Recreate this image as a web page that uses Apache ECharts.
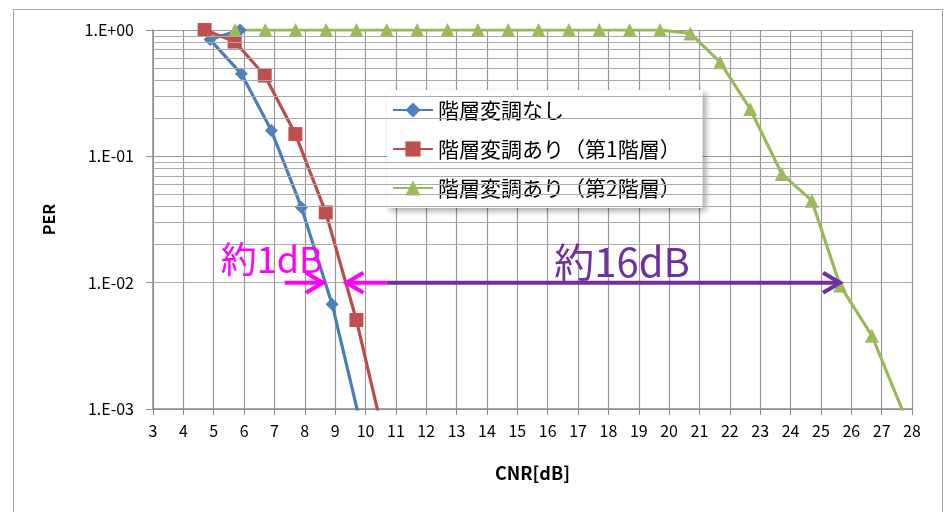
<!DOCTYPE html>
<html>
<head>
<meta charset="utf-8">
<script src="https://cdn.jsdelivr.net/npm/echarts@6/dist/echarts.min.js"></script>
<style>
  html, body { margin: 0; padding: 0; background: #fff; }
  #chart { width: 949px; height: 512px; }
</style>
</head>
<body>
<div id="chart"></div>
<script>
// PER vs CNR for hierarchical modulation
const seriesNames = ['階層変調なし', '階層変調あり（第1階層）', '階層変調あり（第2階層）'];

const cnrNone = [5.87, 4.88, 5.91, 6.90, 7.89, 8.90, 9.90];
const perNone = [1.0, 0.84, 0.45, 0.16, 0.0394, 0.00675, 0.00066];

const cnrLayer1 = [4.70, 5.69, 6.68, 7.69, 8.69, 9.70, 10.70];
const perLayer1 = [1.0, 0.81, 0.436, 0.15, 0.036, 0.00506, 0.00048];

const cnrLayer2 = [5.7, 6.7, 7.7, 8.7, 9.7, 10.7, 11.7, 12.7, 13.7, 14.7, 15.7, 16.7, 17.7, 18.7, 19.7,
                   20.7, 21.68, 22.67, 23.71, 24.7, 25.63, 26.68, 27.7];
const perLayer2 = [1, 1, 1, 1, 1, 1, 1, 1, 1, 1, 1, 1, 1, 1, 1,
                   0.94, 0.556, 0.237, 0.0726, 0.0446, 0.0095, 0.0038, 0.00096];

// y axis decades and their labels
const yTicks = [0.001, 0.01, 0.1, 1];
const yTickLabels = ['1.E-03', '1.E-02', '1.E-01', '1.E+00'];
// in-decade minor grid multipliers
const minorSteps = [2, 3, 4, 5, 6, 7, 8, 9];

// gap annotations (data coordinates)
const gapTexts = ['約1dB', '約16dB'];
const gapTextPos = [[6.91, 0.0153], [18.45, 0.0145]];
const gapArrows = [
  { from: [7.34, 0.01], to: [8.60, 0.01], color: '#ff00ff' },
  { from: [10.69, 0.01], to: [25.63, 0.01], color: '#7030a0' },
  { from: [10.69, 0.01], to: [9.37, 0.01], color: '#ff00ff' }
];

const zip = (xs, ys) => xs.map((x, i) => [x, ys[i]]);

const minorLines = [];
yTicks.slice(0, 3).forEach(d => minorSteps.forEach(m => minorLines.push({ yAxis: d * m })));

const FONT = '"Noto Sans CJK JP", "Noto Sans", sans-serif';
const chart = echarts.init(document.getElementById('chart'), null, { renderer: 'canvas' });

chart.setOption({
  animation: false,
  backgroundColor: '#fff',
  textStyle: { fontFamily: FONT },
  grid: { left: 153, right: 37, top: 30, bottom: 103 },
  legend: {
    data: seriesNames,
    orient: 'vertical',
    left: 387,
    top: 90,
    itemWidth: 40,
    itemHeight: 19,
    itemGap: 15,
    padding: [8, 22, 8, 5],
    backgroundColor: '#fff',
    shadowColor: 'rgba(0,0,0,0.35)',
    shadowBlur: 6,
    shadowOffsetX: 3,
    shadowOffsetY: 3,
    textStyle: { fontSize: 21, color: '#000', fontFamily: FONT, lineHeight: 24 }
  },
  xAxis: {
    type: 'value',
    min: 3, max: 28, interval: 1,
    name: 'CNR[dB]',
    nameLocation: 'middle',
    nameGap: 55,
    nameTextStyle: { fontSize: 18, fontWeight: 'bold', color: '#000', fontFamily: FONT },
    axisLine: { lineStyle: { color: '#8c8c8c', width: 1.5 } },
    axisTick: { show: true, length: 6, lineStyle: { color: '#8c8c8c' } },
    axisLabel: { fontSize: 16, color: '#000', margin: 14 },
    splitLine: { show: true, lineStyle: { color: '#999', width: 1.2 } }
  },
  yAxis: {
    type: 'log',
    logBase: 10,
    min: 0.001, max: 1,
    interval: 1,
    name: 'PER',
    nameLocation: 'middle',
    nameGap: 96,
    nameTextStyle: { fontSize: 16, fontWeight: 'bold', color: '#000', fontFamily: FONT },
    axisLine: { show: true, lineStyle: { color: '#8c8c8c', width: 1.5 } },
    axisTick: { show: true, length: 7, lineStyle: { color: '#8c8c8c' } },
    axisLabel: {
      fontSize: 16, color: '#000', margin: 19,
      formatter: v => {
        let best = 0;
        yTicks.forEach((t, i) => { if (Math.abs(Math.log10(t) - Math.log10(v)) < Math.abs(Math.log10(yTicks[best]) - Math.log10(v))) best = i; });
        return yTickLabels[best];
      }
    },
    splitLine: { show: true, lineStyle: { color: '#999', width: 1.2 } }
  },
  series: [
    {
      name: 'minor-grid',
      type: 'line',
      data: [],
      z: 1,
      silent: true,
      markLine: {
        silent: true,
        symbol: 'none',
        label: { show: false },
        lineStyle: { color: '#aaa', width: 1.2, type: 'solid' },
        emphasis: { disabled: true },
        data: minorLines
      }
    },
    {
      name: seriesNames[0],
      type: 'line',
      data: zip(cnrNone, perNone),
      symbol: 'diamond',
      symbolSize: 13,
      lineStyle: { color: '#4a7ebb', width: 3.2 },
      itemStyle: { color: '#4f81bd' },
      z: 3
    },
    {
      name: seriesNames[1],
      type: 'line',
      data: zip(cnrLayer1, perLayer1),
      symbol: 'rect',
      symbolSize: 14,
      lineStyle: { color: '#be4b48', width: 3.2 },
      itemStyle: { color: '#c0504d' },
      z: 3
    },
    {
      name: seriesNames[2],
      type: 'line',
      data: zip(cnrLayer2, perLayer2),
      symbol: 'triangle',
      symbolSize: 14,
      lineStyle: { color: '#98b954', width: 3.2 },
      itemStyle: { color: '#9bbb59' },
      z: 3
    }
  ]
});

// Annotation arrows and labels, placed through the grid's coordinate system
function arrowElements(a, idx) {
  const p0 = chart.convertToPixel({ gridIndex: 0 }, a.from);
  const p1 = chart.convertToPixel({ gridIndex: 0 }, a.to);
  const dx = p1[0] - p0[0], dy = p1[1] - p0[1];
  const len = Math.hypot(dx, dy);
  const ux = dx / len, uy = dy / len;
  const back = 17, spread = 10;
  const bx = p1[0] - ux * back, by = p1[1] - uy * back;
  return [
    {
      type: 'polyline', id: 'shaft' + idx, z: 10,
      shape: { points: [p0, [p1[0] - ux * 2, p1[1] - uy * 2]] },
      style: { stroke: a.color, lineWidth: 4, fill: null }
    },
    {
      type: 'polyline', id: 'head' + idx, z: 10,
      shape: { points: [[bx - uy * spread, by + ux * spread], p1, [bx + uy * spread, by - ux * spread]] },
      style: { stroke: a.color, lineWidth: 4, fill: null, lineJoin: 'miter' }
    }
  ];
}

const textColors = ['#ff00ff', '#7030a0'];
const textSizes = [36, 40];
const graphics = [
  {
    type: 'rect', id: 'frame', z: 0, silent: true,
    shape: { x: 13.5, y: 9.5, width: 929, height: 520 },
    style: { stroke: '#a6a6a6', lineWidth: 1, fill: null }
  }
];
gapArrows.forEach((a, i) => graphics.push(...arrowElements(a, i)));
gapTexts.forEach((t, i) => {
  const p = chart.convertToPixel({ gridIndex: 0 }, gapTextPos[i]);
  graphics.push({
    type: 'text', id: 'gap' + i, z: 11,
    x: p[0], y: p[1],
    style: {
      text: t, fill: textColors[i], fontSize: textSizes[i], fontFamily: FONT,
      textAlign: 'center', textVerticalAlign: 'middle'
    }
  });
});
chart.setOption({ graphic: graphics });
</script>
</body>
</html>
